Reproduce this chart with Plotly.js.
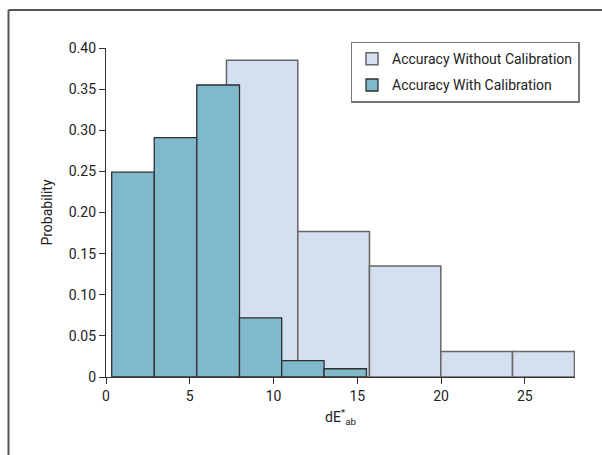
<!DOCTYPE html>
<html>
<head>
<meta charset="utf-8">
<script src="https://cdn.plot.ly/plotly-3.0.1.min.js"></script>
<style>
html,body{margin:0;padding:0;background:#fff;}
#chart{width:602px;height:455px;}
</style>
</head>
<body>
<div id="chart"></div>
<script>
// Data
var withoutEdges = [7.19, 11.45, 15.73, 19.99, 24.27, 27.97];
var withoutProb = [0.385, 0.177, 0.135, 0.031, 0.031];
var withEdges = [0.34, 2.88, 5.42, 7.97, 10.49, 13.02, 15.55];
var withProb = [0.249, 0.291, 0.355, 0.072, 0.020, 0.010];
var xTickVals = [0, 5, 10, 15, 20, 25];
var yTickVals = [0, 0.05, 0.10, 0.15, 0.20, 0.25, 0.30, 0.35, 0.40];
var yTickText = ["0", "0.05", "0.10", "0.15", "0.20", "0.25", "0.30", "0.35", "0.40"];
var seriesNames = ["Accuracy Without Calibration", "Accuracy With Calibration"];

function centers(e){var c=[];for(var i=0;i<e.length-1;i++)c.push((e[i]+e[i+1])/2);return c;}
function widths(e){var w=[];for(var i=0;i<e.length-1;i++)w.push(e[i+1]-e[i]);return w;}

var FONT = '"Liberation Sans Narrow", "Arial Narrow", "Roboto", "Liberation Sans", sans-serif';

var traces = [
  {type:'bar', name:seriesNames[0], legendgroup:'a', x:centers(withoutEdges), y:withoutProb, width:widths(withoutEdges),
   marker:{color:'#d4dff0', line:{color:'#666666', width:1.5}}, hoverinfo:'skip'},
  {type:'bar', name:seriesNames[1], legendgroup:'b', x:centers(withEdges), y:withProb, width:widths(withEdges),
   marker:{color:'#7fb9cb', line:{color:'#2f2f2f', width:1.3}}, hoverinfo:'skip'}
];

var L=106, R=27, T=48, B=78;
var pw=602-L-R, ph=455-T-B;
function px2x(p){return (p-L)/pw;}
function py2y(p){return (455-B-p)/ph;}

var layout = {
  width:602, height:455,
  margin:{l:L, r:R, t:T, b:B, pad:0},
  paper_bgcolor:'#ffffff', plot_bgcolor:'#ffffff',
  barmode:'overlay',
  font:{family:FONT, size:14, color:'#222'},
  showlegend:true,
  legend:{x:px2x(350.5), y:py2y(41.7), xanchor:'left', yanchor:'top',
          bordercolor:'#777', borderwidth:1.5, bgcolor:'#fff',
          font:{family:FONT, size:14, color:'#222'}, traceorder:'grouped',
          tracegroupgap:5},
  xaxis:{range:[0,28], tickvals:xTickVals, ticks:'outside', ticklen:6, tickcolor:'#333',
         showline:true, linecolor:'#333', linewidth:1.2, showgrid:false, zeroline:false,
         tickfont:{family:FONT, size:14, color:'#222'},
         title:{text:'dE<sup>*</sup><sub>ab</sub>', font:{family:FONT, size:14, color:'#222'}, standoff:9}},
  yaxis:{range:[0,0.4], tickvals:yTickVals, ticktext:yTickText, ticks:'outside', ticklen:6, tickcolor:'#333',
         showline:true, linecolor:'#333', linewidth:1.2, showgrid:false, zeroline:false,
         tickfont:{family:FONT, size:14, color:'#222'},
         title:{text:'Probability', font:{family:FONT, size:14, color:'#222'}, standoff:12}},
  shapes:[
    {type:'line', xref:'paper', yref:'paper', x0:px2x(8.5), x1:px2x(620), y0:py2y(10), y1:py2y(10), line:{color:'#555', width:2}},
    {type:'line', xref:'paper', yref:'paper', x0:px2x(8.5), x1:px2x(8.5), y0:py2y(10), y1:py2y(470), line:{color:'#555', width:2}}
  ]
};

Plotly.newPlot('chart', traces, layout, {staticPlot:true, displayModeBar:false});
</script>
</body>
</html>
